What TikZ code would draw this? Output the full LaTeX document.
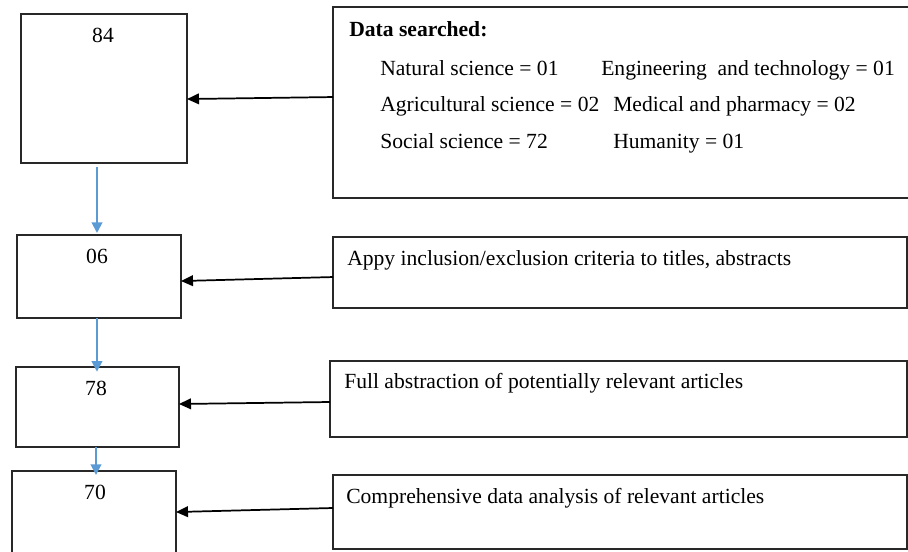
\documentclass[tikz,border=0pt]{standalone}
\usepackage{fontspec}
\setmainfont{Liberation Serif}
\usetikzlibrary{arrows.meta,positioning}

\definecolor{flowblue}{RGB}{91,155,213}
\definecolor{boxline}{RGB}{40,40,40}

\begin{document}
\begin{tikzpicture}[x=0.75pt, y=-0.75pt,
    every node/.style={font=\fontsize{16.2pt}{19pt}\selectfont},
    countbox/.style={draw=boxline, line width=1.1pt, inner sep=0pt, outer sep=0pt},
    notebox/.style={draw=boxline, line width=1.1pt, inner sep=0pt, outer sep=0pt},
    numtext/.style={anchor=base, inner sep=0pt},
    notetext/.style={anchor=base west, inner sep=0pt},
    feed/.style={-{Triangle[length=9pt,width=8pt]}, line width=1.3pt, black},
    flow/.style={-{Triangle[length=8pt,width=8pt]}, line width=1.4pt, flowblue}]

    \useasboundingbox (0,0) rectangle (908,551);
    \clip (0,0) rectangle (908,551);

    % Counts on the left
    \node[countbox, minimum width=124.5pt, minimum height=111.75pt] (b84) at (104,88.5) {};
    \node[numtext] (n84) at (103,42) {84};

    \node[countbox, minimum width=123pt, minimum height=62.25pt] (b06) at (99,276.5) {};
    \node[numtext] (n06) at (97,263) {06};

    \node[countbox, minimum width=122.25pt, minimum height=60pt] (b78) at (97.5,407) {};
    \node[numtext] (n78) at (96,395) {78};

    \node[countbox, minimum width=123pt, minimum height=81.75pt] (b70) at (94,525.5) {};
    \node[numtext] (n70) at (95,499) {70};

    % Steps on the right
    \node[notebox, minimum width=447.75pt, minimum height=143.25pt] (data) at (631.5,102.5) {};
    \node[notetext] (dhead) at (349,36) {\textbf{Data searched:}};
    \node[notetext] (dnat) at (380,75) {Natural science = 01};
    \node[notetext] (deng) at (601,75) {Engineering~~and technology = 01};
    \node[notetext] (dagr) at (380,111) {Agricultural science = 02};
    \node[notetext] (dmed) at (613,111) {Medical and pharmacy = 02};
    \node[notetext] (dsoc) at (380,148) {Social science = 72};
    \node[notetext] (dhum) at (613,148) {Humanity = 01};

    \node[notebox, minimum width=430.5pt, minimum height=53.25pt] (appy) at (620,272.5) {};
    \node[notetext] (tappy) at (347,265) {Appy inclusion/exclusion criteria to titles, abstracts};

    \node[notebox, minimum width=432.75pt, minimum height=57pt] (full) at (618.5,399) {};
    \node[notetext] (tfull) at (344,388) {Full abstraction of potentially relevant articles};

    \node[notebox, minimum width=430.5pt, minimum height=55.5pt] (comp) at (620,512) {};
    \node[notetext] (tcomp) at (346,503) {Comprehensive data analysis of relevant articles};

    % Black arrows, right to left
    \draw[feed] ([yshift=4.1pt]data.west) -- ([yshift=-7.9pt]b84.east);
    \draw[feed] ([yshift=-3.4pt]appy.west) -- ([yshift=-3.4pt]b06.east);
    \draw[feed] ([yshift=-2.25pt]full.west) -- ([yshift=2.25pt]b78.east);
    \draw[feed] ([yshift=3pt]comp.west) -- ([yshift=10.1pt]b70.east);

    % Blue arrows, top to bottom
    \draw[flow] ([xshift=-1.5pt,yshift=-3pt]b06.north |- b84.south) -- ([xshift=-1.5pt,yshift=1.5pt]b06.north);
    \draw[flow] ([xshift=-0.4pt]b78.north |- b06.south) -- ([xshift=-0.4pt,yshift=-3.5pt]b78.north);
    \draw[flow] ([xshift=1.5pt]b70.north |- b78.south) -- ([xshift=1.5pt,yshift=-3pt]b70.north);
\end{tikzpicture}
\end{document}
